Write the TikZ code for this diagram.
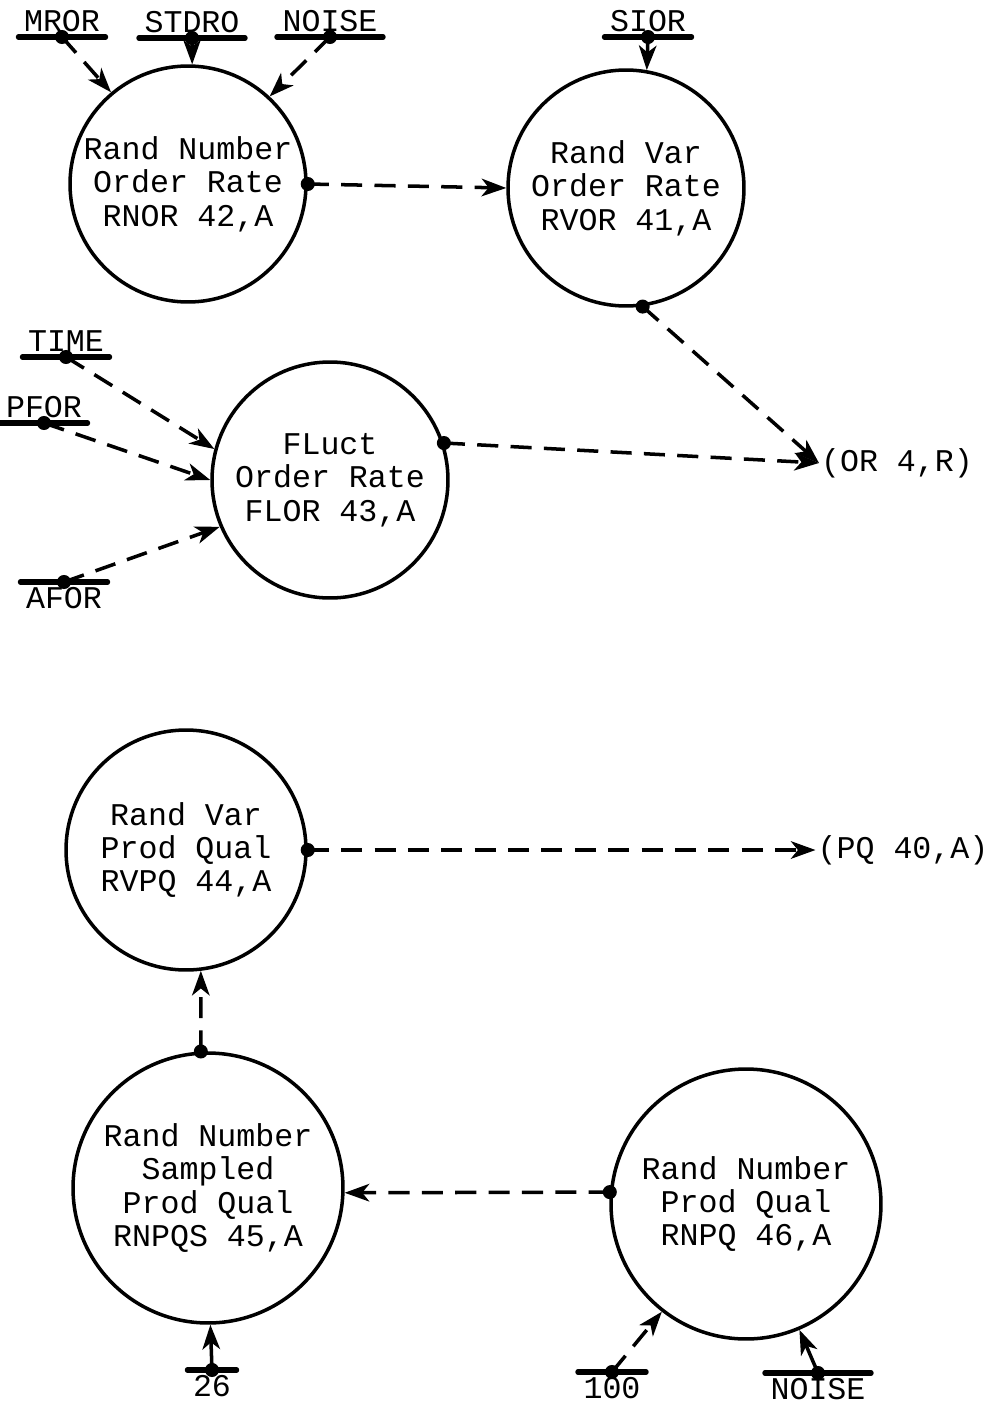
\documentclass[tikz,border=0pt]{standalone}
\usepackage{fontspec}
\newfontfamily\tyfont{Liberation Mono}
\usetikzlibrary{arrows.meta}
\newcommand{\typew}{\tyfont\fontsize{18pt}{19pt}\selectfont}

\tikzset{
  rate/.style={circle, draw, line width=2pt, inner sep=0pt, minimum size=4.72cm, align=center, font=\typew},
  const/.style={font=\typew, inner xsep=3pt, inner ysep=3pt, text depth=0pt},
  constb/.style={font=\typew, inner xsep=3pt, inner ysep=3pt, text depth=0pt},
  outv/.style={font=\typew, inner sep=1pt},
  bar/.style={line width=3pt, line cap=round},
  flow/.style={line width=2pt, dash pattern=on 12pt off 7pt, -{Stealth[length=14pt, width=10pt, inset=4pt]}},
  feed/.style={line width=2pt, -{Stealth[length=14pt, width=10pt, inset=4pt]}},
}

\begin{document}
\begin{tikzpicture}[x=0.02cm, y=-0.02cm]
\useasboundingbox (0,0) rectangle (989,1410);

% order rate
\node[rate] (rnor) at (188,184) {Rand Number\\Order Rate\\RNOR 42,A};
\node[rate] (rvor) at (626,188) {Rand Var\\Order Rate\\RVOR 41,A};
\node[rate] (flor) at (330,480) {FLuct\\Order Rate\\FLOR 43,A};
\node[outv] (orate) at (897,463) {(OR 4,R)};

\node[const, anchor=south] (mror) at (62,37) {MROR};
\node[const, anchor=south] (stdro) at (192,38) {STDRO};
\node[const, anchor=south] (noise) at (330,37) {NOISE};
\node[const, anchor=south] (sior) at (648,37) {SIOR};
\node[const, anchor=south] (time) at (66,357) {TIME};
\node[const, anchor=south] (pfor) at (44,423) {PFOR};
\node[constb, anchor=north] (afor) at (64,582) {AFOR};

% product quality
\node[rate, minimum size=4.8cm] (rvpq) at (186,850) {Rand Var\\Prod Qual\\RVPQ 44,A};
\node[rate, minimum size=5.4cm] (rnpqs) at (208,1188) {Rand Number\\Sampled\\Prod Qual\\RNPQS 45,A};
\node[rate, minimum size=5.4cm] (rnpq) at (746,1204) {Rand Number\\Prod Qual\\RNPQ 46,A};
\node[outv] (pq) at (903,850) {(PQ 40,A)};

\node[constb, anchor=north] (c26) at (212,1370) {26};
\node[constb, anchor=north] (c100) at (612,1372) {100};
\node[constb, anchor=north] (noiseq) at (818,1373) {NOISE};

% bars and dots
\foreach \c in {mror,stdro,noise,sior,time,pfor} {
  \draw[bar] (\c.south west) -- (\c.south east);
  \fill (\c.south) circle (4pt);
}
\foreach \c in {afor,c26,c100,noiseq} {
  \draw[bar] (\c.north west) -- (\c.north east);
  \fill (\c.north) circle (4pt);
}
\foreach \p in {rnor.east,rvor.-82,flor.18,rvpq.east,rnpqs.93,rnpq.175}
  \fill (\p) circle (4pt);

% connectors
\draw[flow] (mror.south) -- (rnor.130);
\draw[feed] (stdro.south) -- (rnor.88);
\draw[flow] (noise.south) -- (rnor.47);
\draw[feed] (sior.south) -- (rvor.80);
\draw[flow] (rnor.east) -- (rvor.west);
\draw[flow] (rvor.-82) -- (orate.west);
\draw[flow] (time.south) -- (flor.165);
\draw[flow] (pfor.south) -- (flor.180);
\draw[flow] (afor.north) -- (flor.203);
\draw[flow] (flor.18) -- (orate.west);

\draw[flow] (rvpq.east) -- (pq.west);
\draw[flow] (rnpqs.93) -- (rvpq.-83);
\draw[flow] (rnpq.175) -- (rnpqs.-2);
\draw[feed] (c26.north) -- (rnpqs.-89);
\draw[flow] (c100.north) -- (rnpq.232);
\draw[feed] (noiseq.north) -- (rnpq.-67);
\end{tikzpicture}
\end{document}
